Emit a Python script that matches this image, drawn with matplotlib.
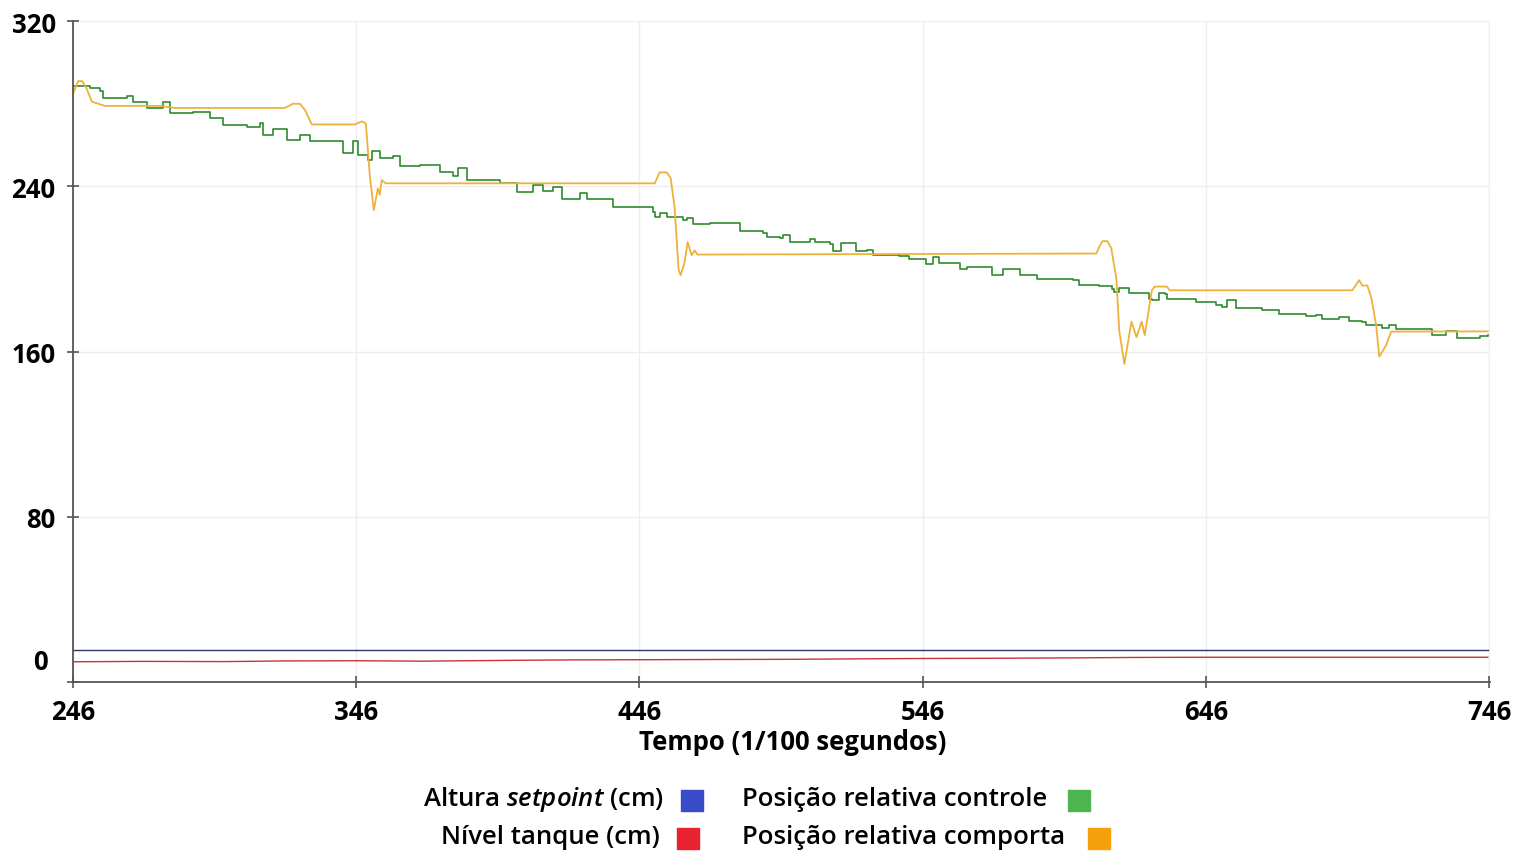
import matplotlib
matplotlib.use('Agg')
import matplotlib.pyplot as plt
from matplotlib.patches import Rectangle
from matplotlib.transforms import blended_transform_factory

plt.rcParams['font.family'] = ['Open Sans', 'DejaVu Sans']
plt.rcParams['mathtext.fontset'] = 'custom'
plt.rcParams['mathtext.rm'] = 'Open Sans:semibold'
plt.rcParams['mathtext.it'] = 'Open Sans:italic:semibold'

# tempo (1/100 s) e valores
controle_t = [246.0, 252.0, 255.5, 256.6, 265.1, 267.2, 272.1, 277.8, 280.2, 288.3,
              294.3, 298.9, 307.4, 312.0, 313.0, 316.6, 321.5, 326.1, 329.6, 341.3,
              344.8, 346.6, 350.1, 351.5, 354.3, 358.9, 361.4, 368.4, 375.5, 380.1,
              381.8, 385.0, 393.1, 396.7, 402.7, 408.3, 411.8, 415.4, 418.5, 424.9,
              427.4, 435.5, 436.5, 445.0, 450.7, 451.4, 453.1, 455.6, 461.2, 462.7,
              464.8, 470.8, 481.4, 489.5, 490.9, 495.5, 496.5, 499.0, 505.0, 506.1,
              507.8, 513.1, 514.2, 517.3, 522.6, 526.2, 528.3, 537.8, 541.3, 545.9,
              547.3, 549.5, 551.9, 559.0, 561.5, 567.1, 570.6, 574.2, 580.2, 586.2,
              598.9, 601.3, 608.4, 613.0, 613.7, 615.4, 619.0, 625.0, 626.0, 627.1,
              629.6, 631.4, 632.4, 642.6, 649.7, 651.8, 653.5, 655.3, 656.7, 663.8,
              665.9, 670.8, 671.9, 679.0, 681.4, 685.0, 687.1, 693.1, 696.6, 701.2,
              702.6, 707.2, 708.2, 710.7, 713.2, 720.0, 725.9, 730.8, 732.9, 734.7,
              740.1, 742.6, 745.5]
controle_v = [288.5, 287.5, 286.0, 282.7, 283.6, 281.0, 278.0, 280.7, 275.4, 276.0,
              273.0, 269.7, 269.0, 270.5, 264.7, 268.0, 262.5, 265.0, 261.8, 256.0,
              261.8, 255.0, 252.8, 257.0, 253.6, 254.5, 250.0, 250.3, 247.0, 245.0,
              248.7, 243.0, 243.0, 241.5, 237.5, 240.5, 237.8, 239.5, 234.0, 237.0,
              233.9, 234.0, 229.8, 230.0, 227.8, 225.4, 227.0, 225.0, 223.6, 224.5,
              222.0, 222.5, 218.3, 217.2, 215.7, 215.2, 216.7, 213.3, 213.3, 214.5,
              213.0, 211.9, 208.5, 212.4, 208.6, 209.0, 206.7, 206.5, 205.0, 205.0,
              202.2, 205.6, 202.7, 199.8, 201.2, 201.2, 197.0, 200.2, 197.0, 195.4,
              194.6, 192.5, 191.8, 190.5, 189.0, 191.0, 188.6, 188.5, 185.7, 184.9,
              188.6, 188.0, 185.4, 184.2, 182.4, 181.8, 184.9, 184.9, 181.3, 181.3,
              180.0, 180.0, 178.4, 178.4, 177.4, 177.8, 175.7, 177.0, 174.7, 174.5,
              173.1, 173.0, 171.6, 173.1, 170.8, 170.8, 168.2, 169.8, 169.8, 166.8,
              166.8, 167.4, 167.9]

comporta_t = [246.0, 247.8, 249.2, 250.6, 252.7, 257.3, 276.7, 282.0, 320.8, 323.6,
              326.1, 327.9, 330.3, 345.5, 348.0, 349.4, 350.8, 352.2, 353.6, 354.3,
              355.0, 356.4, 451.4, 453.1, 455.6, 457.0, 458.4, 459.8, 460.5, 461.9,
              463.0, 463.7, 464.4, 465.5, 466.5, 607.3, 608.4, 609.5, 611.2, 612.6,
              614.4, 615.4, 617.2, 619.7, 621.5, 623.3, 624.4, 626.9, 627.9, 632.2,
              633.2, 697.7, 700.1, 701.2, 703.0, 704.4, 706.1, 707.2, 709.6, 711.4,
              745.5]
comporta_v = [285.0, 291.0, 291.0, 288.0, 281.0, 279.0, 279.0, 278.0, 278.0, 280.0,
              280.0, 277.0, 270.0, 270.0, 271.5, 270.5, 245.0, 228.5, 239.0, 236.0,
              243.0, 241.5, 241.5, 246.8, 246.8, 244.0, 230.0, 200.0, 197.0, 203.0,
              213.0, 210.0, 206.7, 209.0, 207.0, 207.5, 211.0, 213.5, 213.5, 210.0,
              195.0, 170.0, 154.0, 174.5, 167.0, 174.5, 168.0, 189.6, 191.5, 191.5,
              189.7, 189.7, 194.6, 192.0, 192.0, 186.0, 172.8, 157.6, 163.0, 169.7,
              169.8]

setpoint_t = [246.0, 745.5]
setpoint_v = [15.5, 15.5]

nivel_t = [246, 270, 300, 320, 346, 370, 400, 420, 446, 470, 500, 520, 546, 570,
           600, 620, 646, 660, 700, 745.5]
nivel_v = [9.8, 10.0, 9.9, 10.2, 10.3, 10.1, 10.5, 10.7, 10.8, 10.9, 11.0, 11.2,
           11.4, 11.5, 11.7, 11.9, 12.0, 12.0, 12.0, 12.0]

x_ticks = [246, 346, 446, 546, 646, 746]
y_ticks = [0, 80, 160, 240, 320]

legend_items = [
    (r'Altura $\mathit{setpoint}$ (cm)', '#3a4bc8'),
    ('Nível tanque (cm)', '#e8222e'),
    ('Posição relativa controle', '#4db54d'),
    ('Posição relativa comporta', '#f5a00a'),
]

fig = plt.figure(figsize=(15.15, 8.54), dpi=100)
ax = fig.add_axes([0.0482, 0.2002, 0.9353, 0.7738])

ax.plot(setpoint_t, setpoint_v, color='#2b3566', lw=1.0)
ax.plot(nivel_t, nivel_v, color='#c8323a', lw=1.0)
ax.plot(controle_t, controle_v, color='#2f8a2f', lw=1.2, drawstyle='steps-post')
ax.plot(comporta_t, comporta_v, color='#eeb23a', lw=1.3)

ax.set_xlim(246, 746.3)
ax.set_ylim(0, 320)
ax.set_xticks(x_ticks)
ax.set_yticks(y_ticks)
ax.set_xticklabels([str(v) for v in x_ticks], fontsize=18.5, fontweight='bold')
ax.set_yticklabels([''] + [str(v) for v in y_ticks[1:]], fontsize=18.5, fontweight='bold')
ax.tick_params(axis='both', direction='inout', length=9, width=1.2, color='#555555')
ax.tick_params(axis='y', pad=8)
ax.tick_params(axis='x', pad=7)

# rótulo "0" deslocado para cima como no original
trans = blended_transform_factory(ax.transAxes, ax.transData)
ax.text(-0.018, 10, '0', transform=trans, ha='right', va='center',
        fontsize=18.5, fontweight='bold')

ax.grid(True, color='#eeeeee', lw=1.0)
ax.set_axisbelow(True)
for side in ['top', 'right']:
    ax.spines[side].set_visible(False)
for side in ['left', 'bottom']:
    ax.spines[side].set_color('#555555')
    ax.spines[side].set_linewidth(1.3)
ax.axvline(746, color='#eeeeee', lw=1.0, zorder=0)

ax.set_xlabel('Tempo (1/100 segundos)', fontsize=18.5, fontweight='bold')
ax.xaxis.set_label_coords(0.508, -0.07)

# legenda manual (texto + quadrado colorido)
W, H = 1515.0, 854.0
label_pos = [(664, 800, 'right'), (660, 838, 'right'), (742, 800, 'left'), (742, 838, 'left')]
square_pos = [(681, 791), (677, 829), (1068, 791), (1088, 829)]
for (label, color), (tx, ty, ha), (sx, sy) in zip(legend_items, label_pos, square_pos):
    fig.text(tx / W, 1 - ty / H, label, ha=ha, va='center', fontsize=18.5,
             fontweight='semibold')
    fig.add_artist(Rectangle((sx / W, 1 - (sy + 21) / H), 22 / W, 21 / H,
                             transform=fig.transFigure, color=color))

fig.savefig('out.png', dpi=100)
